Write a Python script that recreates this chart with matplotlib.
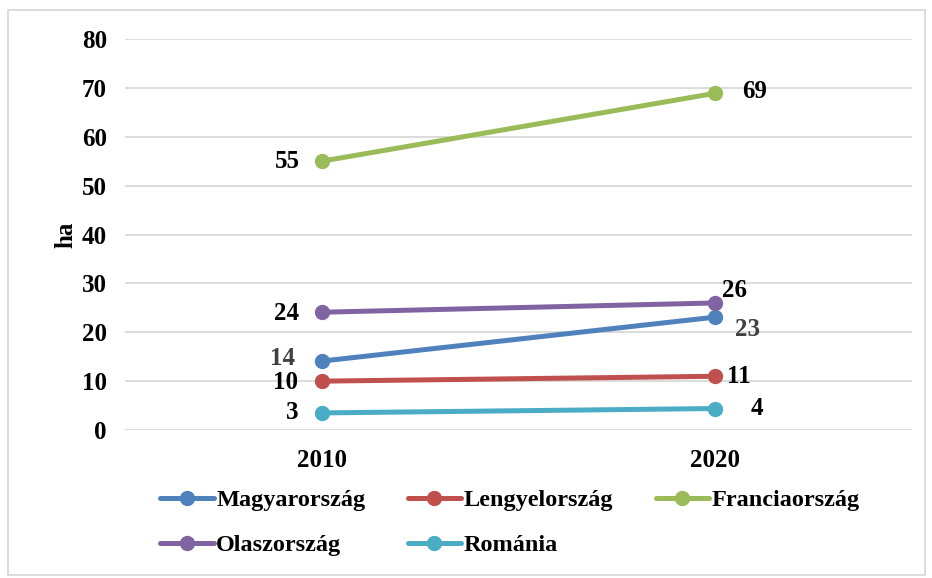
import matplotlib.pyplot as plt
from matplotlib.patches import Rectangle

# Données
years = ['2010', '2020']
countries = ['Magyarország', 'Lengyelország', 'Franciaország', 'Olaszország', 'Románia']
values = {
    'Magyarország': [14.1, 23.1],
    'Lengyelország': [10.0, 11.0],
    'Franciaország': [55.0, 68.9],
    'Olaszország': [24.1, 26.0],
    'Románia': [3.5, 4.4],
}
labels = {
    'Magyarország': ['14', '23'],
    'Lengyelország': ['10', '11'],
    'Franciaország': ['55', '69'],
    'Olaszország': ['24', '26'],
    'Románia': ['3', '4'],
}
colors = ['#4F81BD', '#C0504D', '#9BBB59', '#8064A2', '#4BACC6']
label_colors = ['#404040', 'black', 'black', 'black', 'black']

# decalage des etiquettes (points) : gauche pour 2010, droite pour 2020
offsets = {
    'Magyarország': [(-28, 2), (23, -9)],
    'Lengyelország': [(-26, -1), (17, 0)],
    'Franciaország': [(-25, 0), (28, 1)],
    'Olaszország': [(-25, -1), (14, 9)],
    'Románia': [(-21, 0), (30, 0)],
}

plt.rcParams['font.family'] = ['Liberation Serif', 'DejaVu Serif']
plt.rcParams['font.weight'] = 'bold'
fs = 18

fig = plt.figure(figsize=(9.32, 5.78), dpi=100)
ax = fig.add_axes([0.134, 0.256, 0.8445, 0.6765])

x = range(len(years))
lines = {}
for c, col, lc in zip(countries, colors, label_colors):
    ln, = ax.plot(x, values[c], color=col, lw=3.6, marker='o', ms=10, label=c,
                  solid_capstyle='round')
    lines[c] = ln
    for i, v in enumerate(values[c]):
        ax.annotate(labels[c][i], (i, v), xytext=offsets[c][i], textcoords='offset points',
                    ha='center', va='center', fontsize=fs, fontweight='bold', color=lc)

ax.set_xlim(-0.5, 1.5)
ax.set_ylim(0, 80)
ax.set_yticks(range(0, 81, 10))
ax.set_xticks(list(x))
ax.set_xticklabels(years)
ax.tick_params(length=0, labelsize=fs, pad=13)
ax.tick_params(axis='x', pad=14)
for lab in ax.get_xticklabels() + ax.get_yticklabels():
    lab.set_fontweight('bold')
ax.grid(axis='y', color='#D9D9D9', lw=1.3)
ax.set_axisbelow(True)
for s in ax.spines.values():
    s.set_visible(False)
ax.set_ylabel('ha', fontsize=fs, fontweight='bold', labelpad=3)

# ordre pour remplir les lignes (matplotlib remplit par colonnes)
order = ['Magyarország', 'Olaszország', 'Lengyelország', 'Románia', 'Franciaország']
ax.legend([lines[c] for c in order], order, loc='upper left', bbox_to_anchor=(0.017, -0.095),
          ncol=3, frameon=False, handlelength=2.2, handletextpad=0.1, columnspacing=1.75,
          labelspacing=0.95, prop={'weight': 'bold', 'size': 17.5})

fig.add_artist(Rectangle((8 / 932, 3 / 578), 917 / 932, 565 / 578, transform=fig.transFigure,
                         fill=False, edgecolor='#D9D9D9', lw=1.3))

fig.savefig('out.png', dpi=100)
